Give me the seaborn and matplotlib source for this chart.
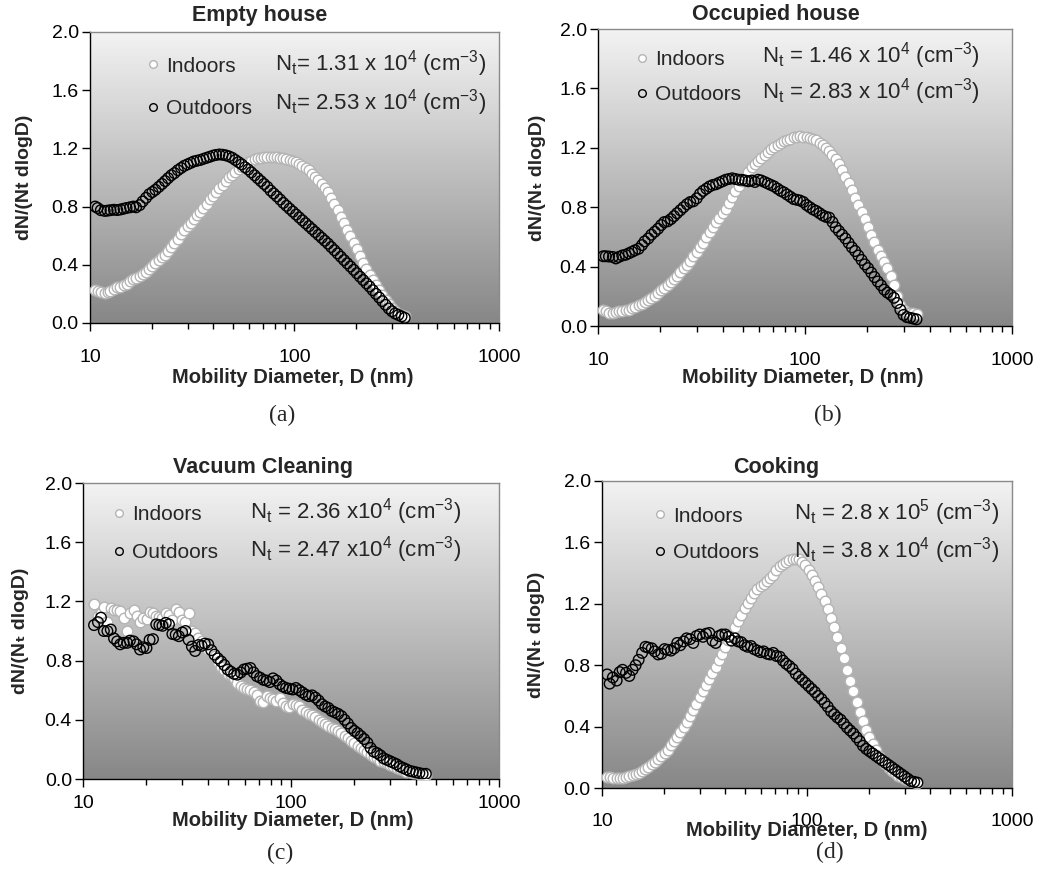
import numpy as np
import matplotlib.pyplot as plt
import seaborn as sns
from matplotlib.colors import LinearSegmentedColormap
from matplotlib.lines import Line2D
from matplotlib.ticker import LogLocator, NullFormatter, FixedLocator, FixedFormatter

# SMPS bin mid-points (nm)
diam = [10.6, 10.9, 11.3, 11.8, 12.2, 12.6, 13.1, 13.6, 14.1, 14.6,
        15.1, 15.7, 16.3, 16.8, 17.5, 18.1, 18.8, 19.5, 20.2, 20.9,
        21.7, 22.5, 23.3, 24.1, 25.0, 25.9, 26.9, 27.9, 28.9, 30.0,
        31.1, 32.2, 33.4, 34.6, 35.9, 37.2, 38.5, 40.0, 41.4, 42.9,
        44.5, 46.1, 47.8, 49.6, 51.4, 53.3, 55.2, 57.3, 59.4, 61.5,
        63.8, 66.1, 68.5, 71.0, 73.7, 76.4, 79.1, 82.0, 85.1, 88.2,
        91.4, 94.7, 98.2, 101.8, 105.5, 109.4, 113.4, 117.6, 121.9, 126.3,
        131.0, 135.8, 140.7, 145.9, 151.2, 156.8, 162.5, 168.5, 174.7, 181.1,
        187.7, 194.6, 201.7, 209.1, 216.7, 224.7, 232.9, 241.4, 250.3, 259.5,
        269.0, 278.8, 289.0, 299.6, 310.6, 322.0, 333.8, 346.0]

# vacuum cleaning scan covers a slightly different range
diam_c = [11.3, 11.8, 12.2, 12.6, 13.1, 13.6, 14.1, 14.6, 15.1, 15.7,
          16.3, 16.8, 17.5, 18.1, 18.8, 19.5, 20.2, 20.9, 21.7, 22.5,
          23.3, 24.1, 25.0, 25.9, 26.9, 27.9, 28.9, 30.0, 31.1, 32.2,
          33.4, 34.6, 35.9, 37.2, 38.5, 40.0, 41.4, 42.9, 44.5, 46.1,
          47.8, 49.6, 51.4, 53.3, 55.2, 57.3, 59.4, 61.5, 63.8, 66.1,
          68.5, 71.0, 73.7, 76.4, 79.1, 82.0, 85.1, 88.2, 91.4, 94.7,
          98.2, 101.8, 105.5, 109.4, 113.4, 117.6, 121.9, 126.3, 131.0, 135.8,
          140.7, 145.9, 151.2, 156.8, 162.5, 168.5, 174.7, 181.1, 187.7, 194.6,
          201.7, 209.1, 216.7, 224.7, 232.9, 241.4, 250.3, 259.5, 269.0, 278.8,
          289.0, 299.6, 310.6, 322.0, 333.8, 346.0, 358.7, 371.8, 385.4, 399.5,
          414.2, 429.4, 445.1]

# (a) Empty house
a_in = [0.225, 0.22, 0.21, 0.205, 0.21, 0.22, 0.235, 0.245, 0.25, 0.26,
        0.27, 0.285, 0.30, 0.31, 0.32, 0.335, 0.35, 0.37, 0.39, 0.41,
        0.43, 0.45, 0.47, 0.495, 0.52, 0.55, 0.58, 0.61, 0.64, 0.665,
        0.69, 0.715, 0.74, 0.765, 0.79, 0.82, 0.85, 0.875, 0.90, 0.925,
        0.95, 0.975, 1.0, 1.02, 1.04, 1.06, 1.075, 1.09, 1.105, 1.115,
        1.125, 1.132, 1.137, 1.14, 1.142, 1.142, 1.14, 1.138, 1.135, 1.132,
        1.128, 1.122, 1.115, 1.105, 1.092, 1.08, 1.065, 1.048, 1.025, 1.0,
        0.98, 0.955, 0.93, 0.90, 0.86, 0.82, 0.775, 0.73, 0.685, 0.64,
        0.595, 0.55, 0.505, 0.46, 0.415, 0.37, 0.33, 0.295, 0.26, 0.225,
        0.19, 0.16, 0.13, 0.10, 0.08, 0.065, 0.055, 0.045]
a_out = [0.80, 0.79, 0.775, 0.77, 0.772, 0.775, 0.778, 0.776, 0.78, 0.785,
         0.79, 0.795, 0.80, 0.795, 0.81, 0.835, 0.86, 0.885, 0.90, 0.915,
         0.935, 0.955, 0.975, 0.995, 1.015, 1.03, 1.05, 1.065, 1.08, 1.09,
         1.10, 1.11, 1.115, 1.12, 1.128, 1.135, 1.142, 1.15, 1.155, 1.158,
         1.156, 1.152, 1.145, 1.135, 1.12, 1.105, 1.09, 1.07, 1.055, 1.035,
         1.015, 0.995, 0.975, 0.955, 0.935, 0.91, 0.89, 0.87, 0.848, 0.825,
         0.805, 0.785, 0.765, 0.745, 0.725, 0.705, 0.685, 0.665, 0.645, 0.625,
         0.605, 0.585, 0.565, 0.545, 0.522, 0.50, 0.478, 0.455, 0.432, 0.41,
         0.388, 0.365, 0.342, 0.318, 0.295, 0.272, 0.25, 0.225, 0.20, 0.175,
         0.15, 0.125, 0.10, 0.08, 0.065, 0.055, 0.045, 0.035]

# (b) Occupied house
b_in = [0.105, 0.10, 0.09, 0.085, 0.095, 0.10, 0.10, 0.105, 0.11, 0.12,
        0.13, 0.14, 0.15, 0.16, 0.175, 0.19, 0.205, 0.22, 0.24, 0.255,
        0.275, 0.295, 0.315, 0.34, 0.365, 0.39, 0.41, 0.44, 0.47, 0.50,
        0.53, 0.56, 0.60, 0.63, 0.67, 0.70, 0.73, 0.76, 0.79, 0.83,
        0.87, 0.91, 0.945, 0.98, 1.01, 1.04, 1.07, 1.09, 1.11, 1.13,
        1.155, 1.175, 1.19, 1.205, 1.22, 1.235, 1.245, 1.25, 1.26, 1.27,
        1.275, 1.278, 1.275, 1.27, 1.265, 1.26, 1.25, 1.235, 1.22, 1.20,
        1.18, 1.155, 1.125, 1.09, 1.05, 1.005, 0.96, 0.915, 0.86, 0.815,
        0.77, 0.72, 0.67, 0.615, 0.565, 0.515, 0.47, 0.43, 0.39, 0.34,
        0.275, 0.20, 0.14, 0.105, 0.09, 0.085, 0.085, 0.08]
b_out = [0.47, 0.47, 0.468, 0.465, 0.455, 0.465, 0.475, 0.48, 0.49, 0.50,
         0.51, 0.52, 0.545, 0.57, 0.59, 0.615, 0.635, 0.655, 0.68, 0.70,
         0.705, 0.72, 0.74, 0.76, 0.78, 0.80, 0.82, 0.835, 0.84, 0.86,
         0.89, 0.91, 0.925, 0.94, 0.95, 0.955, 0.965, 0.975, 0.985, 0.99,
         0.995, 0.99, 0.985, 0.985, 0.98, 0.975, 0.98, 0.97, 0.985, 0.98,
         0.97, 0.96, 0.95, 0.94, 0.925, 0.91, 0.90, 0.885, 0.87, 0.855,
         0.85, 0.845, 0.835, 0.815, 0.80, 0.785, 0.775, 0.76, 0.745, 0.735,
         0.73, 0.70, 0.665, 0.64, 0.615, 0.59, 0.56, 0.53, 0.505, 0.475,
         0.445, 0.415, 0.39, 0.36, 0.33, 0.30, 0.275, 0.245, 0.225, 0.21,
         0.19, 0.155, 0.11, 0.075, 0.06, 0.055, 0.05, 0.045]

# (c) Vacuum cleaning
c_in = [1.18, 1.10, 1.12, 1.165, 1.06, 1.155, 1.145, 1.14, 1.135, 1.09,
        1.0, 1.12, 1.145, 1.10, 1.06, 1.085, 1.08, 1.13, 1.12, 1.10,
        1.095, 1.085, 1.12, 1.105, 1.075, 1.15, 1.13, 1.075, 1.06, 1.12,
        1.0, 0.985, 0.955, 0.93, 0.90, 0.875, 0.86, 0.83, 0.79, 0.755,
        0.735, 0.71, 0.70, 0.68, 0.65, 0.63, 0.615, 0.605, 0.60, 0.585,
        0.565, 0.53, 0.52, 0.56, 0.55, 0.54, 0.53, 0.545, 0.515, 0.49,
        0.485, 0.51, 0.50, 0.49, 0.465, 0.455, 0.44, 0.43, 0.42, 0.40,
        0.385, 0.37, 0.36, 0.345, 0.335, 0.325, 0.31, 0.29, 0.275, 0.26,
        0.24, 0.225, 0.21, 0.195, 0.18, 0.165, 0.15, 0.14, 0.125, 0.115,
        0.105, 0.095, 0.085, 0.075, 0.065, 0.06, 0.05, 0.045, 0.04, 0.038,
        0.035, 0.032, 0.03]
c_out = [1.04, 1.06, 1.09, 1.00, 1.0, 1.01, 0.95, 0.93, 0.91, 0.92,
         0.92, 0.935, 0.93, 0.91, 0.875, 0.89, 0.885, 0.94, 0.945, 1.045,
         1.04, 1.035, 1.055, 1.045, 0.98, 0.975, 0.965, 0.99, 1.0, 0.94,
         0.895, 0.865, 0.905, 0.90, 0.915, 0.91, 0.87, 0.84, 0.815, 0.795,
         0.77, 0.74, 0.725, 0.71, 0.705, 0.72, 0.74, 0.745, 0.75, 0.72,
         0.695, 0.685, 0.67, 0.665, 0.655, 0.68, 0.665, 0.64, 0.625, 0.615,
         0.61, 0.605, 0.615, 0.60, 0.585, 0.57, 0.56, 0.565, 0.55, 0.53,
         0.505, 0.49, 0.48, 0.46, 0.45, 0.44, 0.425, 0.40, 0.375, 0.345,
         0.325, 0.31, 0.29, 0.27, 0.245, 0.21, 0.185, 0.175, 0.16, 0.14,
         0.13, 0.12, 0.11, 0.10, 0.085, 0.075, 0.065, 0.055, 0.05, 0.045,
         0.04, 0.035, 0.035]

# (d) Cooking
d_in = [0.075, 0.07, 0.065, 0.063, 0.065, 0.068, 0.072, 0.076, 0.082, 0.09,
        0.10, 0.11, 0.125, 0.14, 0.155, 0.17, 0.19, 0.21, 0.23, 0.25,
        0.28, 0.305, 0.335, 0.365, 0.395, 0.43, 0.47, 0.51, 0.55, 0.59,
        0.63, 0.67, 0.71, 0.75, 0.79, 0.835, 0.875, 0.92, 0.965, 1.005,
        1.05, 1.09, 1.13, 1.17, 1.205, 1.24, 1.27, 1.295, 1.315, 1.33,
        1.35, 1.37, 1.39, 1.42, 1.445, 1.46, 1.475, 1.485, 1.495, 1.495,
        1.49, 1.475, 1.45, 1.42, 1.385, 1.35, 1.31, 1.265, 1.215, 1.165,
        1.11, 1.05, 0.985, 0.915, 0.845, 0.77, 0.70, 0.63, 0.56, 0.495,
        0.435, 0.38, 0.33, 0.285, 0.245, 0.21, 0.18, 0.155, 0.13, 0.11,
        0.095, 0.08, 0.07, 0.06, 0.05, 0.045, 0.04, 0.035]
d_out = [0.74, 0.68, 0.72, 0.70, 0.755, 0.77, 0.75, 0.73, 0.77, 0.80,
         0.835, 0.88, 0.92, 0.915, 0.91, 0.89, 0.87, 0.875, 0.905, 0.90,
         0.895, 0.91, 0.945, 0.93, 0.955, 0.975, 0.97, 0.945, 0.99, 1.0,
         0.985, 1.005, 1.01, 0.96, 0.945, 0.99, 1.0, 1.0, 0.985, 0.96,
         0.975, 0.955, 0.95, 0.93, 0.92, 0.925, 0.905, 0.895, 0.885, 0.89,
         0.875, 0.87, 0.88, 0.86, 0.855, 0.83, 0.81, 0.795, 0.775, 0.745,
         0.725, 0.705, 0.685, 0.665, 0.645, 0.625, 0.60, 0.58, 0.555, 0.53,
         0.50, 0.48, 0.46, 0.445, 0.42, 0.395, 0.375, 0.355, 0.33, 0.305,
         0.275, 0.255, 0.24, 0.225, 0.21, 0.195, 0.18, 0.165, 0.15, 0.135,
         0.12, 0.105, 0.09, 0.075, 0.06, 0.045, 0.04, 0.035]

titles = ['Empty house', 'Occupied house', 'Vacuum Cleaning', 'Cooking']
panel_tags = ['(a)', '(b)', '(c)', '(d)']
nt_in = [r'N$_\mathregular{t}$= 1.31 x 10$^\mathregular{4}$ (cm$^\mathregular{-3}$)',
         r'N$_\mathregular{t}$ = 1.46 x 10$^\mathregular{4}$ (cm$^\mathregular{-3}$)',
         r'N$_\mathregular{t}$ = 2.36 x10$^\mathregular{4}$ (cm$^\mathregular{-3}$)',
         r'N$_\mathregular{t}$ = 2.8 x 10$^\mathregular{5}$ (cm$^\mathregular{-3}$)']
nt_out = [r'N$_\mathregular{t}$= 2.53 x 10$^\mathregular{4}$ (cm$^\mathregular{-3}$)',
          r'N$_\mathregular{t}$ = 2.83 x 10$^\mathregular{4}$ (cm$^\mathregular{-3}$)',
          r'N$_\mathregular{t}$ = 2.47 x10$^\mathregular{4}$ (cm$^\mathregular{-3}$)',
          r'N$_\mathregular{t}$ = 3.8 x 10$^\mathregular{4}$ (cm$^\mathregular{-3}$)']
ylabels = ['dN/(Nt dlogD)', 'dN/(N\u209c dlogD)', 'dN/(N\u209c dlogD)', 'dN/(N\u209c dlogD)']

series = [(diam, a_in, a_out), (diam, b_in, b_out),
          (diam_c, c_in, c_out), (diam, d_in, d_out)]

# layout (figure fractions / axes fractions), tuned to the original figure
positions = [[0.0865, 0.6309, 0.3933, 0.3326], [0.5750, 0.6274, 0.3980, 0.3394],
             [0.0798, 0.1097, 0.4000, 0.3383], [0.5788, 0.0994, 0.3942, 0.3509]]
title_xy = [(0.416, 1.055), (0.430, 1.050), (0.433, 1.054), (0.424, 1.045)]
leg_xy = [(0.140, 0.915), (0.092, 0.930), (0.073, 0.926), (0.127, 0.916)]
leg_space = [1.12, 0.78, 0.93, 0.85]
nt_x = [0.452, 0.396, 0.401, 0.468]
nt_y = [(0.893, 0.759), (0.912, 0.788), (0.902, 0.774), (0.896, 0.775)]
ylab_x = [-0.159, -0.147, -0.151, -0.159]
xlab_xy = [(0.496, -0.186), (0.495, -0.172), (0.505, -0.139), (0.500, -0.137)]
xtick_pad = [13, 13, 5.5, 12]
tag_xy = [(282, 415), (828, 415), (280, 853), (830, 852)]

sns.set_theme(style='white')
plt.rcParams['font.family'] = ['Liberation Sans', 'DejaVu Sans']
plt.rcParams['mathtext.default'] = 'regular'

fig = plt.figure(figsize=(10.4, 8.75), dpi=100)
bg_cmap = LinearSegmentedColormap.from_list('bg', ['#f3f3f3', '#878787'])
grad = np.linspace(0, 1, 256).reshape(-1, 1)

in_face, in_edge = 'white', '#b4b4b4'
out_edge = 'black'

for i in range(4):
    pos = positions[i]
    bg = fig.add_axes(pos, zorder=0)
    bg.imshow(grad, aspect='auto', cmap=bg_cmap, extent=[0, 1, 0, 1])
    bg.axis('off')

    ax = fig.add_axes(pos, zorder=1)
    ax.patch.set_alpha(0)
    x, y_in, y_out = series[i]
    sns.scatterplot(x=x, y=y_in, ax=ax, s=58, color=in_face,
                    edgecolor=in_edge, linewidth=1.0, zorder=3)
    sns.scatterplot(x=x, y=y_out, ax=ax, s=58, color=out_edge,
                    facecolor='none', edgecolor=out_edge, linewidth=1.0, zorder=4)

    ax.set_xscale('log')
    ax.set_xlim(10, 1000)
    ax.set_ylim(0, 2.0)
    ax.xaxis.set_major_locator(FixedLocator([10, 100, 1000]))
    ax.xaxis.set_major_formatter(FixedFormatter(['10', '100', '1000']))
    ax.xaxis.set_minor_locator(LogLocator(base=10, subs=np.arange(2, 10)))
    ax.xaxis.set_minor_formatter(NullFormatter())
    ax.set_yticks([0.0, 0.4, 0.8, 1.2, 1.6, 2.0])
    ax.set_yticklabels(['0.0', '0.4', '0.8', '1.2', '1.6', '2.0'])
    ax.tick_params(which='both', direction='out', bottom=True, left=True,
                   color='black', width=1, labelsize=14, labelcolor='black')
    ax.tick_params(which='major', length=6)
    ax.tick_params(which='minor', length=4)
    ax.tick_params(axis='x', which='major', pad=xtick_pad[i])
    ax.tick_params(axis='y', which='major', pad=2)
    ax.grid(False)
    for side in ['left', 'bottom']:
        ax.spines[side].set_color('black')
        ax.spines[side].set_linewidth(1)
    for side in ['top', 'right']:
        ax.spines[side].set_color('#8a8a8a')
        ax.spines[side].set_linewidth(1)

    ax.text(title_xy[i][0], title_xy[i][1], titles[i], transform=ax.transAxes,
            ha='center', va='center', fontsize=15.5, fontweight='bold')
    ax.set_ylabel(ylabels[i], fontsize=14, fontweight='bold')
    ax.yaxis.set_label_coords(ylab_x[i], 0.5)
    ax.yaxis.label.set_verticalalignment('center')
    ax.set_xlabel('Mobility Diameter, D (nm)', fontsize=14.5, fontweight='bold')
    ax.xaxis.set_label_coords(*xlab_xy[i])
    ax.xaxis.label.set_verticalalignment('center')

    handles = [Line2D([], [], linestyle='', marker='o', markersize=5.5,
                      markerfacecolor=in_face, markeredgecolor=in_edge),
               Line2D([], [], linestyle='', marker='o', markersize=5.5,
                      markerfacecolor='none', markeredgecolor=out_edge)]
    ax.legend(handles, ['Indoors', 'Outdoors'], loc='upper left',
              bbox_to_anchor=leg_xy[i], frameon=False, fontsize=15,
              borderpad=0, borderaxespad=0, handlelength=0.55,
              handletextpad=0.35, labelspacing=leg_space[i])
    ax.text(nt_x[i], nt_y[i][0], nt_in[i], transform=ax.transAxes,
            ha='left', va='center', fontsize=16)
    ax.text(nt_x[i], nt_y[i][1], nt_out[i], transform=ax.transAxes,
            ha='left', va='center', fontsize=16)

    fig.text(tag_xy[i][0] / 1040, 1 - tag_xy[i][1] / 875, panel_tags[i],
             ha='center', va='center', fontsize=17, family='Liberation Serif')

fig.savefig('out.png', dpi=100)
